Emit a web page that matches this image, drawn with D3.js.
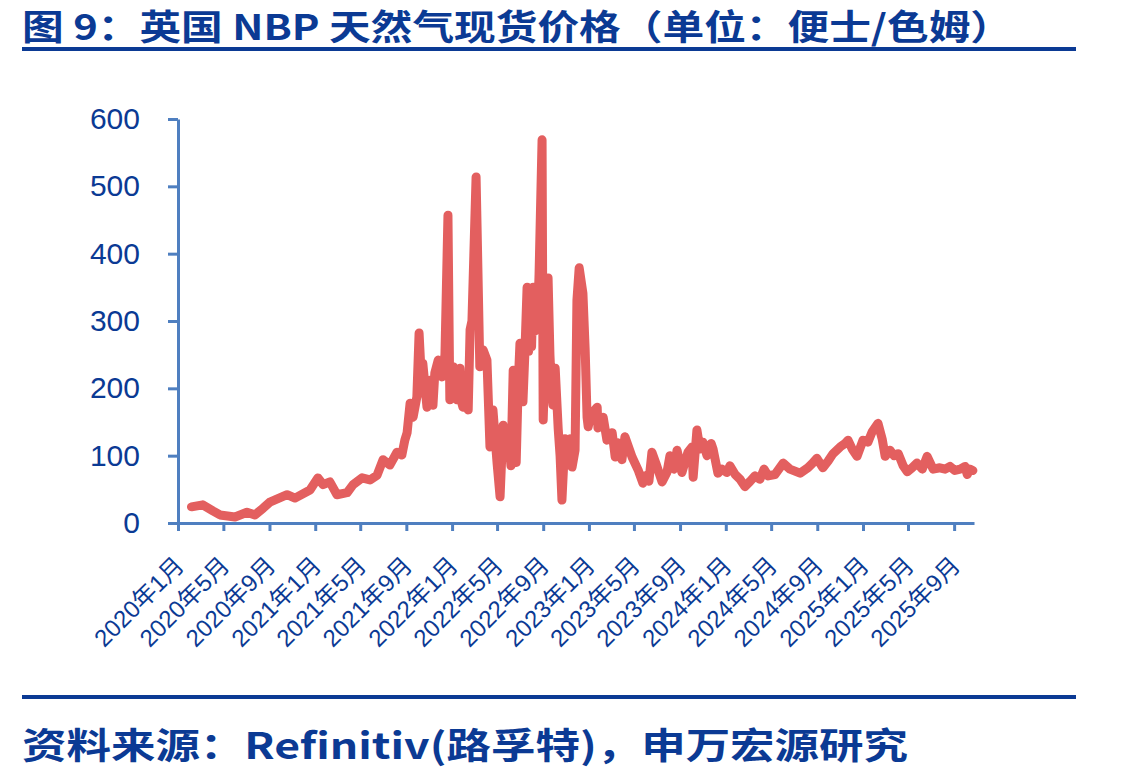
<!DOCTYPE html>
<html>
<head>
<meta charset="utf-8">
<script src="https://cdn.jsdelivr.net/npm/d3@7"></script>
<style>
  body { margin: 0; background: #fff; }
  svg { display: block; }
</style>
</head>
<body>
<svg id="chart" width="1124" height="776"></svg>
<script>
// NBP spot price, pence/therm
const dates = [
  "2020-02-06","2020-03-07","2020-04-03","2020-04-22","2020-06-01","2020-07-03","2020-07-24","2020-08-15",
  "2020-09-02","2020-10-18","2020-11-08","2020-12-18","2021-01-08","2021-01-22","2021-02-09","2021-02-28",
  "2021-03-27","2021-04-12","2021-05-06","2021-05-27","2021-06-15","2021-07-01","2021-07-19","2021-08-07",
  "2021-08-20","2021-08-28","2021-09-03","2021-09-11","2021-09-19","2021-09-29","2021-10-05","2021-10-13",
  "2021-10-15","2021-10-26","2021-11-03","2021-11-11","2021-11-16","2021-11-25","2021-12-05","2021-12-13",
  "2021-12-21","2021-12-26","2022-01-04","2022-01-09","2022-01-14","2022-01-22","2022-01-26","2022-01-30",
  "2022-02-05","2022-02-13","2022-02-18","2022-02-23","2022-03-06","2022-03-16","2022-03-25","2022-04-04",
  "2022-04-12","2022-04-20","2022-05-01","2022-05-09","2022-05-17","2022-05-25","2022-05-30","2022-06-07",
  "2022-06-13","2022-06-21","2022-06-26","2022-07-01","2022-07-05","2022-07-09","2022-07-14","2022-07-20",
  "2022-07-24","2022-07-28","2022-08-01","2022-08-05","2022-08-09","2022-08-13","2022-08-17","2022-08-21",
  "2022-08-29","2022-09-01","2022-09-09","2022-09-14","2022-09-19","2022-09-23","2022-09-27","2022-10-03",
  "2022-10-11","2022-10-16","2022-10-21","2022-10-29","2022-11-04","2022-11-12","2022-11-17","2022-11-25",
  "2022-11-30","2022-12-06","2022-12-16","2022-12-22","2022-12-27","2022-12-30","2023-01-06","2023-01-12",
  "2023-01-23","2023-01-25","2023-02-08","2023-02-18","2023-03-04","2023-03-12","2023-03-20","2023-03-30",
  "2023-04-07","2023-04-26","2023-05-12","2023-05-25","2023-05-31","2023-06-10","2023-06-18","2023-06-29",
  "2023-07-15","2023-07-28","2023-08-05","2023-08-16","2023-08-24","2023-09-06","2023-09-22","2023-10-03",
  "2023-10-06","2023-10-16","2023-10-24","2023-11-01","2023-11-12","2023-11-23","2023-11-28","2023-12-11",
  "2023-12-22","2024-01-04","2024-01-12","2024-01-26","2024-02-08","2024-02-21","2024-03-06","2024-03-19",
  "2024-04-01","2024-04-12","2024-04-23","2024-05-11","2024-06-02","2024-06-20","2024-07-17","2024-08-07",
  "2024-08-18","2024-08-31","2024-09-16","2024-09-30","2024-10-13","2024-11-01","2024-11-14","2024-11-22",
  "2024-12-03","2024-12-16","2025-01-01","2025-01-14","2025-01-25","2025-02-10","2025-02-21","2025-03-01",
  "2025-03-14","2025-03-25","2025-04-05","2025-04-18","2025-04-29","2025-05-12","2025-05-25","2025-06-08",
  "2025-06-21","2025-07-07","2025-07-25","2025-08-08","2025-08-21","2025-09-03","2025-09-17","2025-09-30",
  "2025-10-06","2025-10-13","2025-10-21"
];
const prices = [
  24, 27, 18, 12, 9, 16, 12, 22,
  31, 42, 37, 49, 67, 57, 61, 42,
  45, 57, 67, 64, 71, 94, 86, 105,
  101, 123, 134, 178, 157, 187, 282, 193,
  237, 172, 212, 175, 223, 242, 217, 250,
  457, 183, 232, 190, 183, 230, 180, 172,
  205, 168, 287, 300, 514, 232, 257, 242,
  113, 168, 89, 39, 145, 100, 140, 85,
  227, 90, 200, 267, 190, 180, 250, 350,
  255, 330, 262, 350, 285, 340, 300, 370,
  569, 153, 300, 364, 250, 200, 175, 230,
  140, 100, 34, 125, 98, 125, 83, 108,
  331, 379, 341, 257, 157, 143, 160, 165,
  172, 141, 157, 123, 134, 98, 119, 94,
  128, 98, 79, 59, 70, 62, 105, 88,
  61, 75, 100, 80, 108, 75, 105, 113,
  68, 138, 110, 120, 100, 118, 110, 74,
  80, 75, 85, 72, 65, 54, 62, 70,
  65, 80, 70, 72, 89, 80, 74, 82,
  88, 96, 82, 92, 103, 113, 118, 123,
  110, 99, 123, 120, 135, 148, 125, 99,
  108, 100, 103, 85, 76, 82, 89, 80,
  99, 80, 82, 80, 84, 78, 80, 84,
  72, 80, 78
];
const yTicks = [0, 100, 200, 300, 400, 500, 600];
const xTickLabels = [
  "2020年1月","2020年5月","2020年9月","2021年1月","2021年5月","2021年9月",
  "2022年1月","2022年5月","2022年9月","2023年1月","2023年5月","2023年9月",
  "2024年1月","2024年5月","2024年9月","2025年1月","2025年5月","2025年9月"
];

const titleText = "图 9：英国 NBP 天然气现货价格（单位：便士/色姆）";
const sourceText = "资料来源：Refinitiv(路孚特)，申万宏源研究";

const navy = "#0b3a94";
const axisBlue = "#4f7fc0";
const lineRed = "#e35f5f";

const svg = d3.select("#chart");
svg.append("rect").attr("width", 1124).attr("height", 776).attr("fill", "#fff");

// header and footer
svg.append("text")
  .attr("x", 22).attr("y", 40)
  .attr("textLength", 990).attr("lengthAdjust", "spacingAndGlyphs")
  .style("font-family", "'Noto Sans CJK SC', sans-serif")
  .style("font-weight", "bold").style("font-size", "35px")
  .attr("fill", navy)
  .text(titleText);
svg.append("rect").attr("x", 22).attr("y", 47).attr("width", 1054).attr("height", 4).attr("fill", navy);

svg.append("rect").attr("x", 22).attr("y", 695).attr("width", 1054).attr("height", 4).attr("fill", navy);
svg.append("text")
  .attr("x", 22).attr("y", 759)
  .attr("textLength", 886).attr("lengthAdjust", "spacingAndGlyphs")
  .style("font-family", "'Noto Sans CJK SC', sans-serif")
  .style("font-weight", "bold").style("font-size", "36px")
  .attr("fill", navy)
  .text(sourceText);

// scales
const parse = d3.timeParse("%Y-%m-%d");
const data = dates.map((d, i) => ({ date: parse(d), value: prices[i] }));

const x = d3.scaleTime()
  .domain([new Date(2020, 0, 1), new Date(2025, 9, 24)])
  .range([178, 974]);
const y = d3.scaleLinear().domain([0, 600]).range([523, 119]);

const tickDates = xTickLabels.map(s => {
  const m = s.match(/(\d+)年(\d+)月/);
  return new Date(+m[1], +m[2] - 1, 1);
});

// y axis
const yAxis = svg.append("g")
  .attr("transform", "translate(178,0)")
  .call(d3.axisLeft(y).tickValues(yTicks).tickSize(10).tickSizeOuter(0).tickPadding(28));
yAxis.select(".domain").attr("stroke", axisBlue).attr("stroke-width", 3);
yAxis.selectAll(".tick line").attr("stroke", axisBlue).attr("stroke-width", 3);
yAxis.selectAll(".tick text")
  .attr("fill", navy)
  .style("font-family", "'Liberation Sans', Arial, sans-serif")
  .style("font-size", "30px");

// x axis
const xAxis = svg.append("g")
  .attr("transform", "translate(0,523)")
  .call(d3.axisBottom(x).tickValues(tickDates).tickSize(8).tickSizeOuter(0).tickFormat((d, i) => xTickLabels[i]));
xAxis.select(".domain").attr("stroke", axisBlue).attr("stroke-width", 3);
xAxis.selectAll(".tick line").attr("stroke", axisBlue).attr("stroke-width", 3);
xAxis.selectAll(".tick text")
  .attr("fill", navy)
  .attr("text-anchor", "end")
  .attr("x", 0).attr("y", 0).attr("dy", null)
  .attr("transform", "translate(7,44) rotate(-45)")
  .style("font-family", "'Liberation Sans', 'Noto Sans CJK SC', sans-serif")
  .style("font-size", "24px");

// price line
const line = d3.line()
  .x(d => x(d.date))
  .y(d => y(d.value));

svg.append("path")
  .datum(data)
  .attr("fill", "none")
  .attr("stroke", lineRed)
  .attr("stroke-width", 9)
  .attr("stroke-linejoin", "round")
  .attr("stroke-linecap", "round")
  .attr("d", line);
</script>
</body>
</html>
